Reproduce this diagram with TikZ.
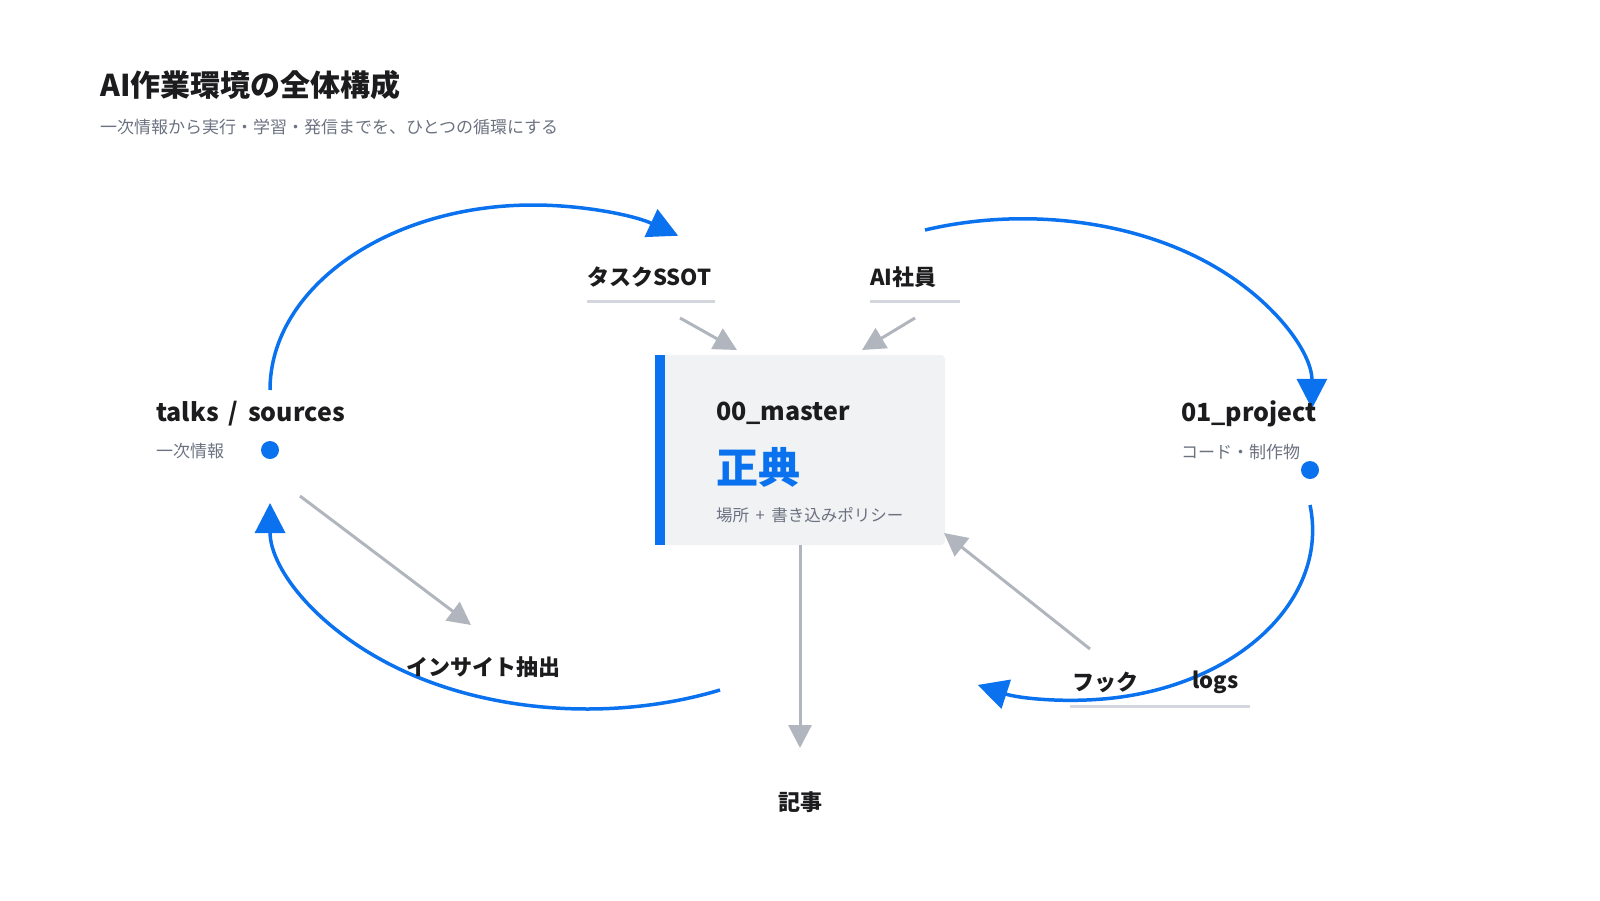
\documentclass[tikz,border=0pt]{standalone}
\usepackage{fontspec}
\setmainfont{Noto Sans CJK JP}
\usetikzlibrary{arrows.meta}

\definecolor{accent}{HTML}{0A72EF}
\definecolor{ink}{HTML}{1C1C1E}
\definecolor{muted}{HTML}{6B7280}
\definecolor{arrowgray}{HTML}{B1B6BE}
\definecolor{rulegray}{HTML}{D3D6DC}
\definecolor{panel}{HTML}{F1F2F4}

\begin{document}
\begin{tikzpicture}[x=1pt, y=-1pt,
	lbl/.style={anchor=west, inner sep=0pt, text=ink, font=\bfseries\fontsize{22}{26}\selectfont},
	head/.style={lbl, font=\bfseries\fontsize{25}{29}\selectfont},
	note/.style={anchor=west, inner sep=0pt, text=muted, font=\fontsize{17}{21}\selectfont},
	dot/.style={circle, fill=accent, inner sep=0pt, minimum size=18pt},
	loop/.style={draw=accent, line width=3.5pt, -{Triangle[length=30pt, width=30pt]}},
	feed/.style={draw=arrowgray, line width=3pt, -{Triangle[length=23pt, width=23pt]}},
	under/.style={draw=rulegray, line width=3pt}]
	\useasboundingbox (0,0) rectangle (1600,900);

	% the big loop
	\coordinate (srcOut) at (270,390);
	\coordinate (aiOut) at (925,230);
	\coordinate (prjOut) at (1310,505);
	\coordinate (mstOut) at (720,690);
	\draw [loop] (srcOut) arc [start angle=180, end angle=56.5, x radius=263pt, y radius=185pt];
	\draw [loop] (aiOut) arc [start angle=109.8, end angle=0, x radius=289pt, y radius=190pt];
	\draw [loop] (prjOut) arc [start angle=8.5, end angle=-114.4, x radius=237pt, y radius=170pt];
	\draw [loop] (mstOut) arc [start angle=-65.2, end angle=-180, x radius=317pt, y radius=206pt];

	% title
	\node at (100,85) [lbl, font=\bfseries\fontsize{30}{34}\selectfont] (title) {AI作業環境の全体構成};
	\node at (100,127) [note] (subtitle) {一次情報から実行・学習・発信までを、ひとつの循環にする};

	% master box
	\fill [panel, rounded corners=4pt] (655,355) rectangle (945,545);
	\fill [accent] (655,355) rectangle (665,545);
	\node at (716,413) [head] (master) {00\_master};
	\node at (716,467) [lbl, text=accent, font=\bfseries\fontsize{42}{46}\selectfont] (canon) {正典};
	\node at (716,515) [note, font=\fontsize{16.5}{20}\selectfont] (policy) {場所 \,+\, 書き込みポリシー};
	\coordinate (mstBottom) at (800,545);

	% sources
	\node at (156,414) [head] (src) {talks \,/\, sources};
	\node at (156,451) [note] (srcnote) {一次情報};
	\node at (270,450) [dot] (srcdot) {};

	% project
	\node at (1181,414) [head] (prj) {01\_project};
	\node at (1181,452) [note] (prjnote) {コード・制作物};
	\node at (1310,470) [dot] (prjdot) {};

	% inputs
	\node at (587,277) [lbl] (ssot) {タスクSSOT};
	\node at (870,277) [lbl] (ai) {AI社員};
	\draw [under] (587,301) -- (715,301);
	\draw [under] (870,301) -- (960,301);
	\coordinate (ssotFrom) at (680,318);
	\coordinate (ssotTo) at (737,350);
	\coordinate (aiFrom) at (915,318);
	\coordinate (aiTo) at (862,350);
	\draw [feed] (ssotFrom) -- (ssotTo);
	\draw [feed] (aiFrom) -- (aiTo);

	% outputs
	\node at (406,667) [lbl] (insight) {インサイト抽出};
	\node at (1072,682) [lbl] (hook) {フック};
	\node at (1192,682) [lbl] (logs) {logs};
	\draw [under] (1070,706) -- (1250,706);
	\node at (800,802) [lbl, anchor=center] (article) {記事};
	\coordinate (srcFrom) at (300,496);
	\coordinate (insTo) at (471,625);
	\coordinate (hookFrom) at (1090,649);
	\coordinate (mstCorner) at (944,533);
	\coordinate (artTo) at (800,748);
	\draw [feed] (srcFrom) -- (insTo);
	\draw [feed] (hookFrom) -- (mstCorner);
	\draw [feed] (mstBottom) -- (artTo);
\end{tikzpicture}
\end{document}
